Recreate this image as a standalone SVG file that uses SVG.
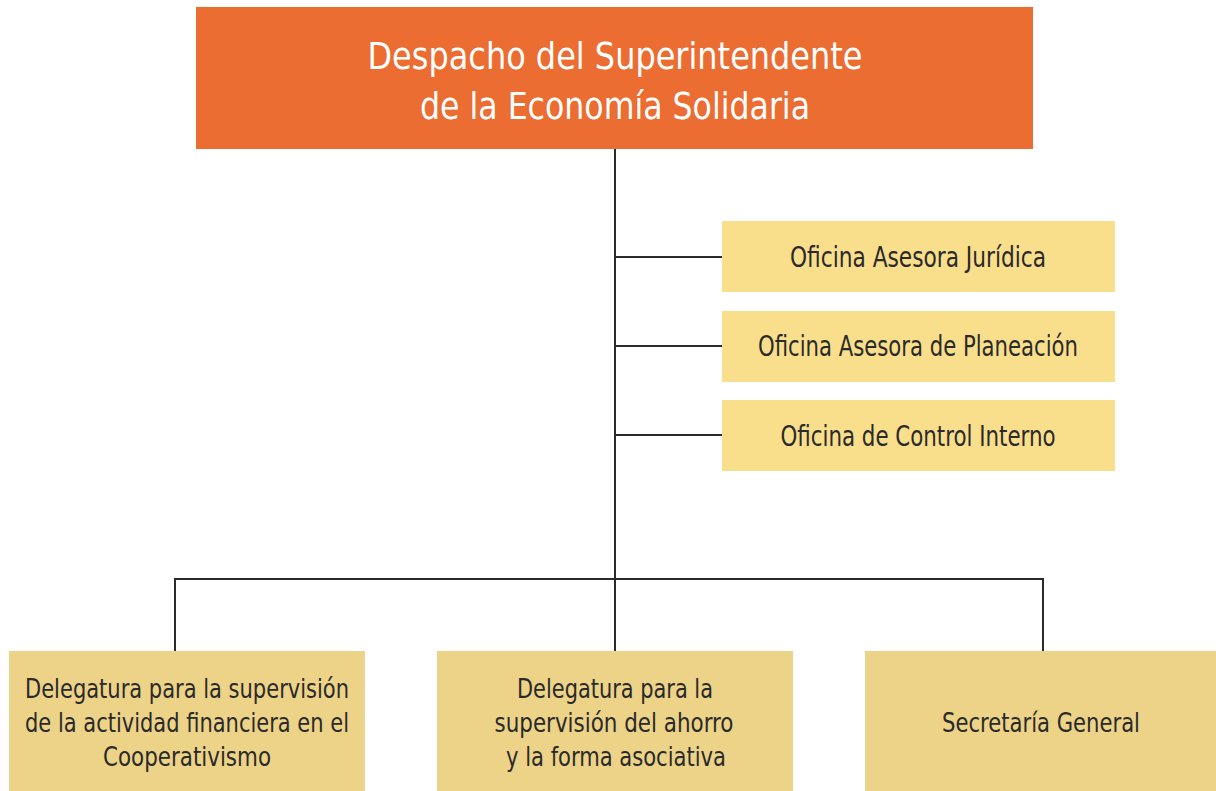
<svg xmlns="http://www.w3.org/2000/svg" width="1216" height="791" viewBox="0 0 1216 791">
<style>
.t{font-family:"Liberation Sans Narrow","DejaVu Sans Condensed","Liberation Sans",sans-serif;text-anchor:middle;}
.title{fill:#ffffff;font-size:38px;}
.off{fill:#2a2a2a;font-size:28px;}
.del{fill:#2a2a2a;font-size:27px;}
.ln{stroke:#2b2b2b;stroke-width:2;fill:none;}
</style>
<rect width="1216" height="791" fill="#ffffff"/>
<g id="connectors">
<path class="ln" d="M615 149V651M615 257H722M615 346H722M615 435H722M175 651V579H1043V651"/>
</g>
<g id="despacho">
<rect x="196" y="7" width="837" height="142" fill="#EB6D32"/>
<text class="t title" x="615" y="69" textLength="495" lengthAdjust="spacingAndGlyphs">Despacho del Superintendente</text>
<text class="t title" x="615" y="119" textLength="390" lengthAdjust="spacingAndGlyphs">de la Economía Solidaria</text>
</g>
<g id="juridica">
<rect x="722" y="221" width="393" height="71" fill="#F9DE8C"/>
<text class="t off" x="918" y="267" textLength="256" lengthAdjust="spacingAndGlyphs">Oficina Asesora Jurídica</text>
</g>
<g id="planeacion">
<rect x="722" y="311" width="393" height="71" fill="#F9DE8C"/>
<text class="t off" x="918" y="356" textLength="320" lengthAdjust="spacingAndGlyphs">Oficina Asesora de Planeación</text>
</g>
<g id="control">
<rect x="722" y="400" width="393" height="71" fill="#F9DE8C"/>
<text class="t off" x="918" y="446" textLength="275" lengthAdjust="spacingAndGlyphs">Oficina de Control Interno</text>
</g>
<g id="delegatura-financiera">
<rect x="9" y="651" width="356" height="140" fill="#EDD388"/>
<text class="t del" x="187" y="698" textLength="324" lengthAdjust="spacingAndGlyphs">Delegatura para la supervisión</text>
<text class="t del" x="187" y="732" textLength="324" lengthAdjust="spacingAndGlyphs">de la actividad financiera en el</text>
<text class="t del" x="187" y="766" textLength="168" lengthAdjust="spacingAndGlyphs">Cooperativismo</text>
</g>
<g id="delegatura-ahorro">
<rect x="437" y="651" width="356" height="140" fill="#EDD388"/>
<text class="t del" x="615" y="698" textLength="196" lengthAdjust="spacingAndGlyphs">Delegatura para la</text>
<text class="t del" x="614" y="732" textLength="239" lengthAdjust="spacingAndGlyphs">supervisión del ahorro</text>
<text class="t del" x="616" y="766" textLength="220" lengthAdjust="spacingAndGlyphs">y la forma asociativa</text>
</g>
<g id="secretaria">
<rect x="865" y="651" width="351" height="140" fill="#EDD388"/>
<text class="t del" x="1041" y="732" textLength="198" lengthAdjust="spacingAndGlyphs">Secretaría General</text>
</g>
</svg>
